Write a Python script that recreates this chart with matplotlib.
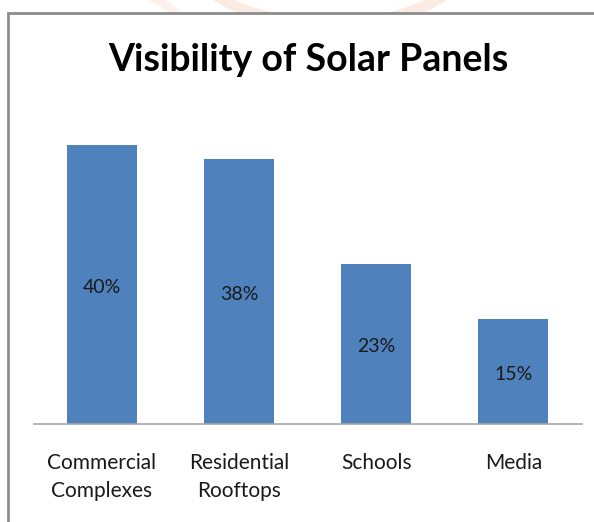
import matplotlib.pyplot as plt
from matplotlib.patches import Rectangle, Arc

categories = ["Commercial\nComplexes", "Residential\nRooftops", "Schools", "Media"]
values = [40, 38, 23, 15]
labels = ["40%", "38%", "23%", "15%"]

bar_color = "#4F81BD"
font = ["Lato", "DejaVu Sans"]

fig = plt.figure(figsize=(5.94, 5.22), dpi=100)
fig.patch.set_facecolor("white")

# faint watermark arcs behind the chart box
bg = fig.add_axes([0, 0, 1, 1], zorder=0)
bg.set_xlim(0, 594)
bg.set_ylim(522, 0)
bg.axis("off")
bg.add_patch(Arc((330, -60), 300, 170, theta1=0, theta2=180, color="#f6c9b0", lw=8, alpha=0.35))
bg.add_patch(Arc((60, 40), 260, 120, theta1=180, theta2=360, color="#f8dcc8", lw=6, alpha=0.35))
bg.add_patch(Rectangle((8, 13), 620, 540, facecolor="white", edgecolor="#8c8c8c", lw=2))

ax = fig.add_axes([33.5 / 594, 98 / 522, 548.5 / 594, 314 / 522], zorder=1)
ax.patch.set_alpha(0)
x = range(len(categories))
bars = ax.bar(x, values, width=0.51, color=bar_color)
for b, lab in zip(bars, labels):
    ax.text(b.get_x() + b.get_width() / 2, b.get_height() / 2 - 0.4, lab,
            ha="center", va="center", fontsize=14, family=font, color="#1a1a1a")

ax.set_xlim(-0.5, 3.5)
ax.set_ylim(0, 45)
ax.set_xticks(list(x))
ax.set_xticklabels(categories, fontsize=15, family=font, color="#1a1a1a", linespacing=1.5)
ax.tick_params(axis="x", length=0, pad=21)
ax.set_yticks([])
for s in ["top", "right", "left"]:
    ax.spines[s].set_visible(False)
ax.spines["bottom"].set_color("#a6a6a6")
ax.spines["bottom"].set_linewidth(1.2)

fig.text(308 / 594, 1 - 60 / 522, "Visibility of Solar Panels", ha="center", va="center",
         fontsize=27, fontweight="bold", family=font, color="black")

fig.savefig("out.png", dpi=100)
